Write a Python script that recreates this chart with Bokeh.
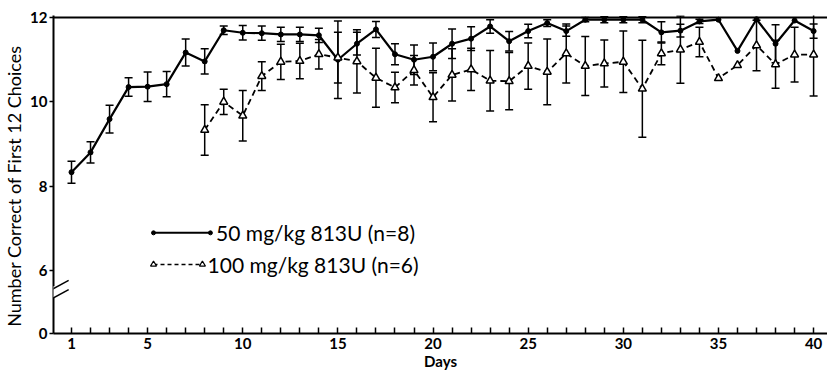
from bokeh.plotting import figure
from bokeh.models import (ColumnDataSource, Whisker, TeeHead, Span, Label,
                          FixedTicker, Arrow, Range1d)
from bokeh.embed import file_html
from bokeh.resources import INLINE

# ---------------- data ----------------
days50 = list(range(1, 41))
mean50 = [8.33, 8.80, 9.59, 10.35, 10.36, 10.42, 11.17, 10.96, 11.70, 11.64,
          11.63, 11.60, 11.60, 11.58, 11.00, 11.38, 11.72, 11.13, 11.00, 11.07,
          11.38, 11.50, 11.79, 11.44, 11.68, 11.87, 11.68, 11.95, 11.95, 11.95,
          11.95, 11.65, 11.69, 11.91, 11.95, 11.21, 11.96, 11.38, 11.93, 11.68]
sem50 = [0.26, 0.25, 0.33, 0.22, 0.35, 0.30, 0.32, 0.30, 0.10, 0.17,
         0.17, 0.17, 0.17, 0.17, 0.92, 0.27, 0.19, 0.25, 0.35, 0.33,
         0.35, 0.28, 0.16, 0.23, 0.16, 0.08, 0.12, 0.05, 0.07, 0.07,
         0.07, 0.25, 0.15, 0.05, 0.0, 0.0, 0.0, 0.45, 0.0, 0.17]

days100 = list(range(8, 41))
mean100 = [9.33, 10.00, 9.67, 10.61, 10.95, 10.97, 11.13, 11.05, 10.96, 10.57,
           10.34, 10.75, 10.11, 10.64, 10.77, 10.50, 10.49, 10.85, 10.71, 11.15,
           10.85, 10.91, 10.95, 10.31, 11.15, 11.24, 11.42, 10.56, 10.87, 11.34,
           10.89, 11.12, 11.12]
sem100 = [0.60, 0.30, 0.60, 0.34, 0.42, 0.42, 0.35, 0.60, 0.75, 0.70,
          0.36, 0.35, 0.58, 0.62, 0.50, 0.72, 0.68, 0.55, 0.78, 0.70,
          0.70, 0.56, 0.73, 1.15, 0.27, 0.80, 0.35, 0.0, 0.0, 0.60,
          0.57, 0.65, 0.98]

x_label_days = [1, 5, 10, 15, 20, 25, 30, 35, 40]
y_ticks = [6, 8, 10, 12]
ZERO_POS = 4.5          # position on the broken axis where "0" is drawn

legend50 = "50 mg/kg  813U  (n=8)"
legend100 = "100 mg/kg  813U  (n=6)"

FONT = "Lato"

# ---------------- figure ----------------
p = figure(width=827, height=373, output_backend="svg", toolbar_location=None,
           x_range=Range1d(0.054, 40.73), y_range=Range1d(ZERO_POS, 12.05),
           min_border_left=53, min_border_right=0, min_border_top=15,
           min_border_bottom=40)
p.outline_line_color = None
p.grid.visible = False
p.background_fill_color = "white"

# x axis
p.xaxis.ticker = FixedTicker(ticks=days50)
p.xaxis.major_label_overrides = {d: (str(d) if d in x_label_days else "") for d in days50}
p.xaxis.major_tick_in = 6
p.xaxis.major_tick_out = 0
p.xaxis.minor_tick_line_color = None
p.xaxis.axis_line_width = 2
p.xaxis.major_tick_line_width = 1.5
p.xaxis.major_label_text_font = FONT
p.xaxis.major_label_text_font_size = "15px"
p.xaxis.major_label_text_font_style = "bold"
p.xaxis.major_label_text_color = "black"
p.xaxis.major_label_standoff = 4
p.xaxis.axis_label = "Days"
p.xaxis.axis_label_text_font = FONT
p.xaxis.axis_label_text_font_size = "15px"
p.xaxis.axis_label_text_font_style = "bold"
p.xaxis.axis_label_text_color = "black"
p.xaxis.axis_label_standoff = 0

# y axis
p.yaxis.ticker = FixedTicker(ticks=[ZERO_POS] + y_ticks)
p.yaxis.major_label_overrides = {ZERO_POS: "0"}
p.yaxis.major_tick_in = 0
p.yaxis.major_tick_out = 4
p.yaxis.minor_tick_line_color = None
p.yaxis.axis_line_width = 2
p.yaxis.major_tick_line_width = 1.5
p.yaxis.major_label_text_font = FONT
p.yaxis.major_label_text_font_size = "15px"
p.yaxis.major_label_text_font_style = "bold"
p.yaxis.major_label_text_color = "black"
p.yaxis.major_label_standoff = 2
p.yaxis.axis_label = "Number  Correct  of  First  12  Choices"
p.yaxis.axis_label_text_font = FONT
p.yaxis.axis_label_text_font_size = "18px"
p.yaxis.axis_label_text_font_style = "normal"
p.yaxis.axis_label_text_color = "black"
p.yaxis.axis_label_standoff = 2

# top border
p.add_layout(Span(location=12, dimension="width", line_color="black", line_width=2))

# axis break
p.add_layout(Arrow(end=None, x_start=0.054, y_start=5.36, x_end=0.054, y_end=5.62,
                   line_color="white", line_width=4))
p.add_layout(Arrow(end=None, x_start=-0.55, y_start=5.20, x_end=0.85, y_end=5.54,
                   line_color="black", line_width=1.5))
p.add_layout(Arrow(end=None, x_start=-0.55, y_start=5.42, x_end=0.85, y_end=5.76,
                   line_color="black", line_width=1.5))

# error bars
def whisker_source(d, m, e):
    dd = [a for a, c in zip(d, e) if c > 0]
    up = [b + c for b, c in zip(m, e) if c > 0]
    lo = [b - c for b, c in zip(m, e) if c > 0]
    return ColumnDataSource(dict(x=dd, upper=up, lower=lo))

for d, m, e in ((days50, mean50, sem50), (days100, mean100, sem100)):
    src = whisker_source(d, m, e)
    p.add_layout(Whisker(source=src, base="x", upper="upper", lower="lower",
                         line_color="black", line_width=1.5,
                         upper_head=TeeHead(size=8, line_color="black", line_width=1.5),
                         lower_head=TeeHead(size=8, line_color="black", line_width=1.5)))

# series
p.line(days50, mean50, line_color="black", line_width=2.2)
p.scatter(days50, mean50, marker="circle", size=5, fill_color="black", line_color="black")
p.line(days100, mean100, line_color="black", line_width=1.8, line_dash="6 4")
p.scatter(days100, mean100, marker="triangle", size=8, fill_color="white",
          line_color="black", line_width=1.5)

# hand-drawn legend
p.line([5.31, 8.30], [6.89, 6.89], line_color="black", line_width=2)
p.scatter([5.31, 8.30], [6.89, 6.89], marker="circle", size=4, color="black")
p.line([5.31, 7.88], [6.14, 6.14], line_color="black", line_width=1.5, line_dash="4 3")
p.scatter([5.31, 7.88], [6.14, 6.14], marker="triangle", size=6, fill_color="white",
          line_color="black", line_width=1.2)
p.add_layout(Label(x=8.6, y=6.89, text=legend50, text_font=FONT, text_font_size="21px",
                   text_baseline="middle", text_color="black"))
p.add_layout(Label(x=8.15, y=6.14, text=legend100, text_font=FONT, text_font_size="21px",
                   text_baseline="middle", text_color="black"))

open("out.html", "w").write(file_html(p, INLINE))
